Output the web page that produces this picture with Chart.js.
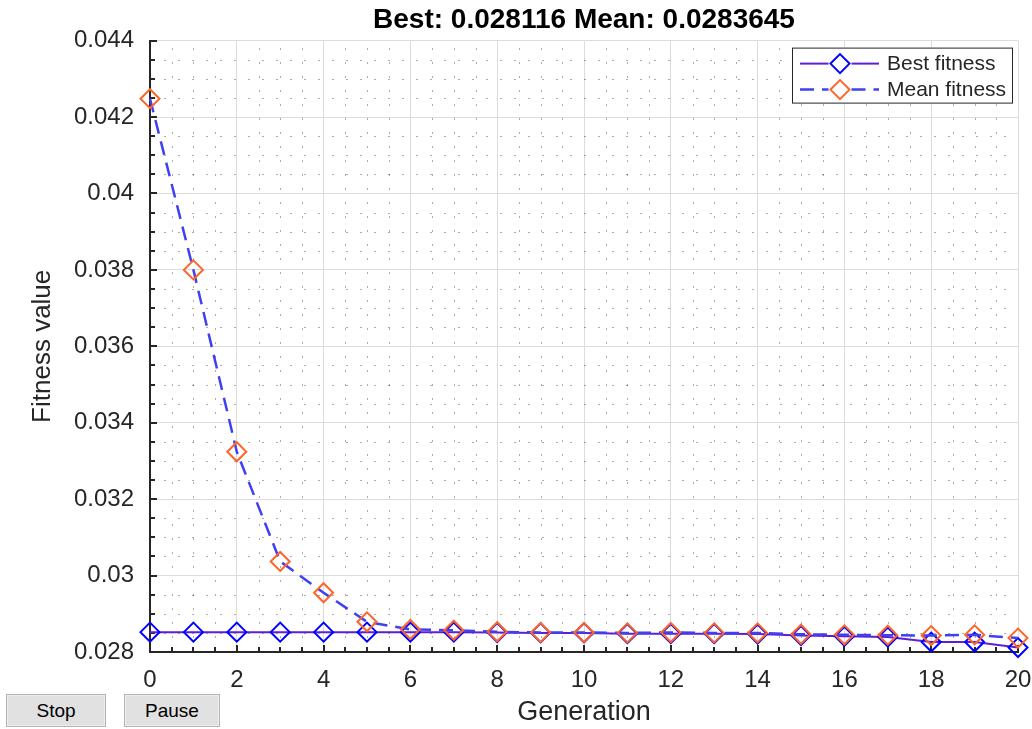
<!DOCTYPE html>
<html>
<head>
<meta charset="utf-8">
<title>GA fitness</title>
<script src="https://cdn.jsdelivr.net/npm/chart.js@4.4.1/dist/chart.umd.min.js"></script>
<style>
  html, body { margin: 0; padding: 0; background: #fff; }
  #wrap { position: relative; width: 1032px; height: 729px; }
  .btn {
    position: absolute; top: 694px; height: 33px;
    background: #e1e1e1; border: 1px solid #b4b4b4;
    box-shadow: inset 0 0 0 1px #ededed;
    font: 19px "Liberation Sans", Arial, sans-serif; color: #000;
    padding: 0; margin: 0;
  }
  #stop { left: 6px; width: 100px; }
  #pause { left: 124px; width: 96px; }
</style>
</head>
<body>
<div id="wrap">
  <canvas id="fitness"></canvas>
  <button class="btn" id="stop">Stop</button>
  <button class="btn" id="pause">Pause</button>
</div>
<script>
// fitness per generation
var generations = [0, 1, 2, 3, 4, 5, 6, 7, 8, 9, 10, 11, 12, 13, 14, 15, 16, 17, 18, 19, 20];
var bestFitness = [0.02852, 0.02852, 0.02852, 0.02852, 0.02852, 0.02852, 0.02852, 0.02852, 0.02851, 0.0285, 0.0285,
                   0.02848, 0.02848, 0.02848, 0.02847, 0.02843, 0.02841, 0.02839, 0.02826, 0.02826, 0.028116];
var meanFitness = [0.04248, 0.038, 0.03324, 0.03037, 0.02955, 0.02879, 0.02859, 0.02857, 0.02853, 0.02851, 0.02851,
                   0.0285, 0.02851, 0.0285, 0.0285, 0.028465, 0.02845, 0.02844, 0.02843, 0.02845, 0.0283645];

var xTicks = [0, 2, 4, 6, 8, 10, 12, 14, 16, 18, 20];
var yTicks = [0.028, 0.03, 0.032, 0.034, 0.036, 0.038, 0.04, 0.042, 0.044];
var xMinorStep = 0.5;
var yMinorStep = 0.0005;

var axisColor = '#262626';
var fontFamily = "'Liberation Sans', Arial, Helvetica, sans-serif";

Chart.defaults.font.family = fontFamily;
Chart.defaults.color = axisColor;

function points(ys) {
    return generations.map(function (g, i) { return {x: g, y: ys[i]}; });
}

// minor dotted grid, inward tick marks, and the boxed legend
var axisDecor = {
    id: 'axisDecor',
    beforeDatasetsDraw: function (chart) {
        var ctx = chart.ctx, a = chart.chartArea;
        var xs = chart.scales.x, ys = chart.scales.y;
        var nx = Math.round((xs.max - xs.min) / xMinorStep);
        var ny = Math.round((ys.max - ys.min) / yMinorStep);
        var i, v, p;

        ctx.save();
        ctx.lineWidth = 1;
        ctx.strokeStyle = 'rgba(0,0,0,0.33)';
        ctx.setLineDash([2, 12]);
        for (i = 1; i < nx; i++) {
            if (i % 4 === 0) continue;
            p = Math.round(xs.getPixelForValue(xs.min + i * xMinorStep)) + 0.5;
            ctx.beginPath(); ctx.moveTo(p, a.bottom); ctx.lineTo(p, a.top); ctx.stroke();
        }
        for (i = 1; i < ny; i++) {
            if (i % 4 === 0) continue;
            p = Math.round(ys.getPixelForValue(ys.min + i * yMinorStep)) + 0.5;
            ctx.beginPath(); ctx.moveTo(a.left, p); ctx.lineTo(a.right, p); ctx.stroke();
        }
        ctx.setLineDash([]);

        // ticks point into the axes
        ctx.strokeStyle = axisColor;
        ctx.lineWidth = 2;
        for (i = 0; i <= nx; i++) {
            v = xs.min + i * xMinorStep;
            p = Math.round(xs.getPixelForValue(v));
            var lx = (i % 4 === 0) ? 7 : 5;
            ctx.beginPath(); ctx.moveTo(p, a.bottom); ctx.lineTo(p, a.bottom - lx); ctx.stroke();
        }
        for (i = 0; i <= ny; i++) {
            v = ys.min + i * yMinorStep;
            p = Math.round(ys.getPixelForValue(v));
            var ly = (i % 4 === 0) ? 7 : 5;
            ctx.beginPath(); ctx.moveTo(a.left, p); ctx.lineTo(a.left + ly, p); ctx.stroke();
        }
        ctx.restore();
    },
    afterDraw: function (chart) {
        var ctx = chart.ctx, a = chart.chartArea;
        var sets = chart.data.datasets;
        var w = 221, h = 56;
        var bx = a.right - w - 5, by = a.top + 7;

        ctx.save();
        ctx.fillStyle = '#fff';
        ctx.fillRect(bx, by, w, h);
        ctx.strokeStyle = axisColor;
        ctx.lineWidth = 1;
        ctx.strokeRect(bx + 0.5, by + 0.5, w - 1, h - 1);

        ctx.font = '21px ' + fontFamily;
        ctx.textBaseline = 'middle';
        sets.forEach(function (ds, k) {
            var cy = by + 16 + k * 26;
            var x0 = bx + 8, x1 = bx + 87, cx = bx + 48;
            var r = ds.pointRadius;
            ctx.strokeStyle = ds.borderColor;
            ctx.lineWidth = ds.borderWidth;
            ctx.setLineDash(ds.borderDash || []);
            ctx.beginPath(); ctx.moveTo(x0, cy); ctx.lineTo(cx - r - 2, cy); ctx.stroke();
            ctx.beginPath(); ctx.moveTo(cx + r + 2, cy); ctx.lineTo(x1, cy); ctx.stroke();
            ctx.setLineDash([]);
            ctx.strokeStyle = ds.pointBorderColor;
            ctx.lineWidth = ds.pointBorderWidth;
            ctx.beginPath();
            ctx.moveTo(cx, cy - r); ctx.lineTo(cx + r, cy); ctx.lineTo(cx, cy + r); ctx.lineTo(cx - r, cy);
            ctx.closePath(); ctx.stroke();
            ctx.fillStyle = axisColor;
            ctx.fillText(ds.label, x1 + 8, cy + 1);
        });
        ctx.restore();
    }
};

var ctx = document.getElementById('fitness');

new Chart(ctx, {
    type: 'line',
    data: {
        datasets: [
            {
                label: 'Best fitness',
                data: points(bestFitness),
                borderColor: 'rgb(94, 30, 214)',
                borderWidth: 2,
                pointStyle: 'rectRot',
                pointRadius: 9.5,
                pointBorderColor: '#0000ff',
                pointBorderWidth: 2,
                pointBackgroundColor: 'rgba(0,0,0,0)',
                tension: 0,
                clip: false,
                order: 2
            },
            {
                label: 'Mean fitness',
                data: points(meanFitness),
                borderColor: 'rgb(64, 64, 240)',
                borderWidth: 2.5,
                borderDash: [14, 8],
                pointStyle: 'rectRot',
                pointRadius: 9.5,
                pointBorderColor: 'rgb(255, 100, 40)',
                pointBorderWidth: 2,
                pointBackgroundColor: 'rgba(0,0,0,0)',
                tension: 0,
                clip: false,
                order: 1
            }
        ]
    },
    options: {
        responsive: true,
        maintainAspectRatio: false,
        animation: false,
        events: [],
        layout: { padding: { left: 0, right: 14, top: 3, bottom: 0 } },
        plugins: {
            legend: { display: false },
            tooltip: { enabled: false },
            title: {
                display: true,
                fullSize: false,
                text: 'Best: ' + bestFitness[bestFitness.length - 1] + ' Mean: ' + meanFitness[meanFitness.length - 1],
                color: '#000',
                font: { size: 28, weight: 'bold' },
                padding: { top: 0, bottom: 4 }
            }
        },
        scales: {
            x: {
                type: 'linear',
                min: 0,
                max: 20,
                afterBuildTicks: function (s) { s.ticks = xTicks.map(function (v) { return {value: v}; }); },
                afterFit: function (s) { s.height = 77; s.paddingLeft = 0; s.paddingRight = 0; },
                grid: { color: '#dcdcdc', lineWidth: 1, drawTicks: false },
                border: { color: axisColor, width: 2 },
                ticks: { padding: 14, font: { size: 24 }, color: axisColor, maxRotation: 0 },
                title: { display: true, text: 'Generation', font: { size: 27 }, color: axisColor,
                         padding: { top: 0, bottom: 0 } }
            },
            y: {
                min: 0.028,
                max: 0.044,
                afterBuildTicks: function (s) { s.ticks = yTicks.map(function (v) { return {value: v}; }); },
                afterFit: function (s) { s.width = 150; },
                grid: { color: '#dcdcdc', lineWidth: 1, drawTicks: false },
                border: { color: axisColor, width: 2 },
                ticks: {
                    padding: 16, font: { size: 24 }, color: axisColor,
                    callback: function (v) { return String(Number(v.toFixed(4))); }
                },
                title: { display: true, text: 'Fitness value', font: { size: 26 }, color: axisColor,
                         padding: { top: 27, bottom: 0 } }
            }
        }
    },
    plugins: [axisDecor]
});
</script>
</body>
</html>
